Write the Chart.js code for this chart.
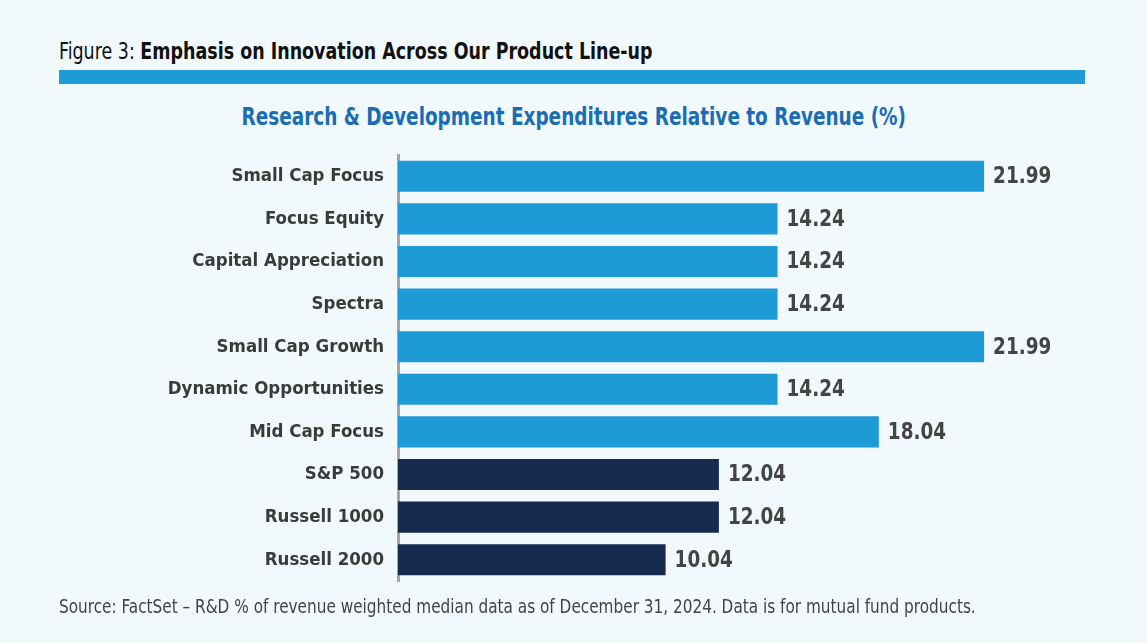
<!DOCTYPE html>
<html>
<head>
<meta charset="utf-8">
<script src="https://cdn.jsdelivr.net/npm/chart.js@4"></script>
<style>
  html, body { margin: 0; padding: 0; }
  body {
    width: 1147px; height: 643px; position: relative; overflow: hidden;
    background: #f1f9fd;
    font-family: "Liberation Sans Narrow", "DejaVu Sans Condensed", "Roboto", sans-serif;
  }
  .squeeze { display: inline-block; white-space: nowrap; transform-origin: left center; }
  #fig-title { position: absolute; left: 59px; top: 38px; font-size: 23px; color: #111; transform: scaleX(0.845); }
  #fig-title b { font-weight: bold; }
  #band { position: absolute; left: 59px; top: 70px; width: 1026px; height: 14px; background: #1e9ad6; }
  #subtitle { position: absolute; left: 0; width: 1147px; top: 102px; text-align: center;
    font-size: 25px; font-weight: bold; color: #1a6db4; transform: scaleX(0.82); transform-origin: 575px center; }
  #source { position: absolute; left: 59px; top: 595px; font-size: 19px; color: #444; transform: scaleX(0.895); }
  #chart-wrap { position: absolute; left: 0; top: 0; width: 1147px; height: 643px; }
</style>
</head>
<body>
<div id="fig-title" class="squeeze">Figure 3: <b>Emphasis on Innovation Across Our Product Line-up</b></div>
<div id="band"></div>
<div id="subtitle">Research &amp; Development Expenditures Relative to Revenue (%)</div>
<div id="chart-wrap"><canvas id="rdChart"></canvas></div>
<div id="source" class="squeeze">Source: FactSet – R&amp;D % of revenue weighted median data as of December 31, 2024. Data is for mutual fund products.</div>
<script>
const categories = [
  "Small Cap Focus", "Focus Equity", "Capital Appreciation", "Spectra",
  "Small Cap Growth", "Dynamic Opportunities", "Mid Cap Focus",
  "S&P 500", "Russell 1000", "Russell 2000"
];
const rdValues = [21.99, 14.24, 14.24, 14.24, 21.99, 14.24, 18.04, 12.04, 12.04, 10.04];
const isBenchmark = [false, false, false, false, false, false, false, true, true, true];

const FUND_COLOR = "#1e9ad6";
const BENCH_COLOR = "#172b50";
const LABEL_FONT = '"Liberation Sans Narrow", "DejaVu Sans Condensed", "Roboto", sans-serif';

// value text at the end of each bar, squeezed a little to look condensed
const valueLabels = {
  id: "valueLabels",
  afterDatasetsDraw(chart) {
    const ctx = chart.ctx;
    const meta = chart.getDatasetMeta(0);
    ctx.save();
    ctx.font = "bold 23px " + LABEL_FONT;
    ctx.fillStyle = "#444";
    ctx.textAlign = "left";
    ctx.textBaseline = "middle";
    meta.data.forEach((bar, i) => {
      ctx.save();
      ctx.translate(bar.x + 9, bar.y + 1);
      ctx.scale(0.89, 1);
      ctx.fillText(rdValues[i].toFixed(2), 0, 0);
      ctx.restore();
    });
    ctx.restore();
  }
};

const ctx = document.getElementById("rdChart").getContext("2d");
new Chart(ctx, {
  type: "bar",
  data: {
    labels: categories,
    datasets: [{
      data: rdValues,
      backgroundColor: isBenchmark.map(b => b ? BENCH_COLOR : FUND_COLOR),
      borderWidth: 0,
      barPercentage: 0.73,
      categoryPercentage: 1
    }]
  },
  options: {
    indexAxis: "y",
    responsive: true,
    maintainAspectRatio: false,
    animation: false,
    layout: { padding: { top: 155, bottom: 62, left: 0, right: 56 } },
    plugins: {
      legend: { display: false },
      tooltip: { enabled: false }
    },
    scales: {
      x: { display: false, min: 0, max: 26 },
      y: {
        afterFit: scale => { scale.width = 398; },
        grid: { display: false, drawTicks: false },
        border: { display: true, color: "#a5a5a5", width: 3 },
        ticks: {
          padding: 14,
          color: "#3a3a3a",
          font: { family: LABEL_FONT, size: 18.5, weight: "bold" }
        }
      }
    }
  },
  plugins: [valueLabels]
});
</script>
</body>
</html>
